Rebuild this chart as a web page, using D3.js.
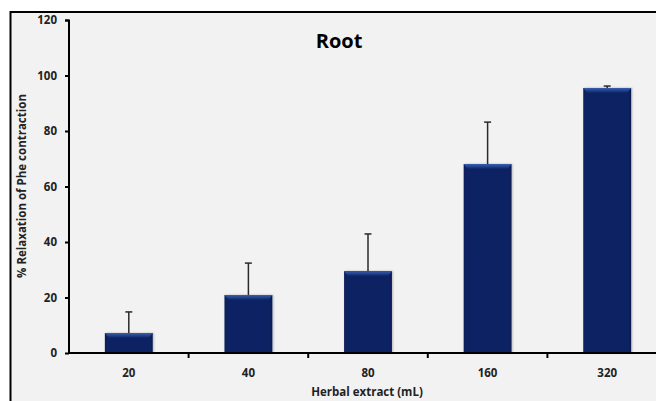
<!DOCTYPE html>
<html><head><meta charset="utf-8">
<script src="https://cdn.jsdelivr.net/npm/d3@7"></script>
<style>body{margin:0;background:#fff;} svg{display:block;}</style>
</head><body>
<svg id="c" width="656" height="401"></svg>
<script>
const categories = ["20","40","80","160","320"];
const values = [7.2, 20.9, 29.5, 68.1, 95.5];
const errors = [7.6, 11.5, 13.4, 15.1, 0.7];
const yTicks = [0,20,40,60,80,100,120];
const title = "Root";
const xLabel = "Herbal extract (mL)";
const yLabel = "% Relaxation of Phe contraction";

const svg = d3.select("#c");
const font = "'Open Sans', 'Liberation Sans', sans-serif";

const defs = svg.append("defs");
const g1 = defs.append("linearGradient").attr("id","bv").attr("x1",0).attr("x2",1).attr("y1",0).attr("y2",0);
g1.append("stop").attr("offset","0%").attr("stop-color","#081e58");
g1.append("stop").attr("offset","7%").attr("stop-color","#0a2464");
g1.append("stop").attr("offset","93%").attr("stop-color","#0a2464");
g1.append("stop").attr("offset","100%").attr("stop-color","#061a50");
const g2 = defs.append("linearGradient").attr("id","tp").attr("x1",0).attr("x2",0).attr("y1",0).attr("y2",1);
g2.append("stop").attr("offset","0%").attr("stop-color","#3a5cae");
g2.append("stop").attr("offset","45%").attr("stop-color","#244690");
g2.append("stop").attr("offset","100%").attr("stop-color","#0a2464");
const f = defs.append("filter").attr("id","sh").attr("x","-20%").attr("y","-20%").attr("width","140%").attr("height","140%");
f.append("feDropShadow").attr("dx",1).attr("dy",0).attr("stdDeviation",1).attr("flood-color","#000").attr("flood-opacity",0.25);

// frame
svg.append("rect").attr("x",10.5).attr("y",12).attr("width",660).attr("height",400)
  .attr("fill","#f2f2f2").attr("stroke","#000").attr("stroke-width",2);

const x = d3.scaleBand().domain(categories).range([69, 667]).paddingInner(0.6).paddingOuter(0.3);
const y = d3.scaleLinear().domain([0,120]).range([353, 20]);

// bars
const bars = svg.append("g").selectAll("g").data(categories).join("g");
bars.append("rect")
  .attr("x", d => x(d)).attr("y", (d,i) => y(values[i]))
  .attr("width", x.bandwidth()).attr("height", (d,i) => y(0) - y(values[i]))
  .attr("fill","url(#bv)").attr("filter","url(#sh)");
bars.append("path")
  .attr("d", (d,i) => {
    const x0 = x(d), x1 = x(d)+x.bandwidth(), y0 = y(values[i]);
    return `M${x0},${y0}H${x1}L${x1-4},${y0+5}H${x0+4}Z`;
  })
  .attr("fill","url(#tp)");

// error bars
const eb = svg.append("g").attr("stroke","#2a2a2a").attr("stroke-width",1.5);
eb.selectAll("line.v").data(categories).join("line").attr("class","v")
  .attr("x1", d => x(d)+x.bandwidth()/2).attr("x2", d => x(d)+x.bandwidth()/2)
  .attr("y1", (d,i) => y(values[i])).attr("y2", (d,i) => y(values[i]+errors[i]));
eb.selectAll("line.c").data(categories).join("line").attr("class","c")
  .attr("x1", d => x(d)+x.bandwidth()/2-3.5).attr("x2", d => x(d)+x.bandwidth()/2+3.5)
  .attr("y1", (d,i) => y(values[i]+errors[i])).attr("y2", (d,i) => y(values[i]+errors[i]));

// y axis
const ya = svg.append("g").attr("transform","translate(69,0)")
  .call(d3.axisLeft(y).tickValues(yTicks).tickSize(4).tickPadding(8));
ya.select(".domain").attr("stroke","#000").attr("stroke-width",2).attr("d","M-4,20.5H0V353");
ya.selectAll(".tick line").attr("stroke","#000").attr("stroke-width",2);
ya.selectAll(".tick text").attr("font-family",font).attr("font-weight","bold").attr("font-size",11.5).attr("fill","#222");

// x axis
const xa = svg.append("g").attr("transform","translate(0,353)");
xa.append("line").attr("x1",68).attr("x2",656).attr("y1",0).attr("y2",0).attr("stroke","#000").attr("stroke-width",2);
const bounds = d3.range(1, categories.length).map(i => x(categories[i]) - x.step()*x.paddingInner()/2);
xa.selectAll("line.t").data(bounds).join("line").attr("class","t")
  .attr("x1", d=>d).attr("x2", d=>d).attr("y1",0).attr("y2",5).attr("stroke","#000").attr("stroke-width",2);
xa.selectAll("text").data(categories).join("text")
  .attr("x", d => x(d)+x.bandwidth()/2).attr("y", 24).attr("text-anchor","middle")
  .attr("font-family",font).attr("font-weight","bold").attr("font-size",11.5).attr("fill","#222").text(d=>d);

// title
svg.append("text").attr("x",339).attr("y",48).attr("text-anchor","middle")
  .attr("font-family",font).attr("font-weight","bold").attr("font-size",20).attr("fill","#000").text(title);
// axis labels
svg.append("text").attr("x",367).attr("y",396).attr("text-anchor","middle")
  .attr("font-family",font).attr("font-weight","bold").attr("font-size",11.5).attr("fill","#222").text(xLabel);
svg.append("text").attr("transform","translate(26,186) rotate(-90)").attr("text-anchor","middle")
  .attr("font-family",font).attr("font-weight","bold").attr("font-size",11.5).attr("fill","#222").text(yLabel);
</script>
</body></html>
